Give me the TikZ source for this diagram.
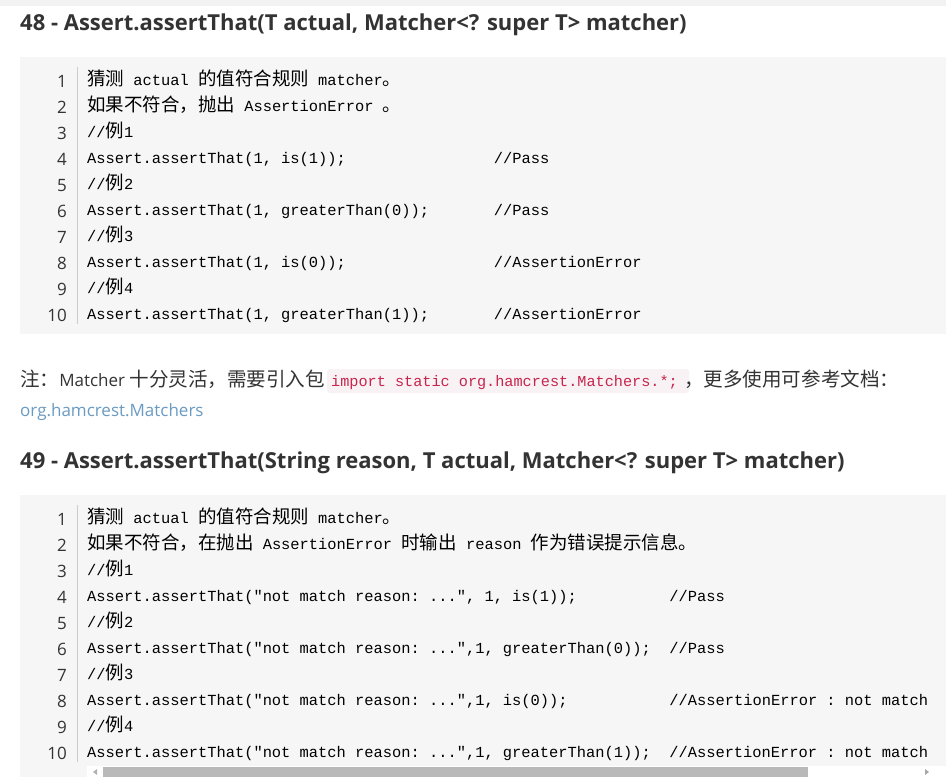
\documentclass[tikz,border=0pt]{standalone}
\usepackage{fontspec}
\setmainfont{Open Sans}
\setmonofont{Liberation Mono}
\newfontfamily\cjk[Scale=1.15]{Noto Sans CJK SC}
\newfontfamily\cjkm[Scale=1.2]{Noto Sans CJK SC}
\newcommand{\zh}[1]{{\cjkm #1}}
\newcommand{\zt}[1]{{\cjk #1}}
\definecolor{codebg}{HTML}{F6F6F6}
\definecolor{headc}{HTML}{333333}
\definecolor{linkc}{HTML}{6A9BC3}
\definecolor{inlbg}{HTML}{F9F2F4}
\definecolor{inlfg}{HTML}{C7254E}
\definecolor{sepc}{HTML}{CCCCCC}
\begin{document}
\begin{tikzpicture}[x=1pt,y=-1pt,
  head/.style={anchor=base west,inner sep=0,font=\fontsize{22}{26}\selectfont\bfseries,text=headc},
  code/.style={anchor=base west,inner sep=0,font=\fontsize{15.4}{18}\ttfamily,text=black},
  lnum/.style={anchor=base east,inner sep=0,font=\fontsize{17}{20}\selectfont,text=headc},
  note/.style={anchor=base west,inner sep=0,font=\fontsize{17}{20}\selectfont,text=headc}]
\useasboundingbox (0,0) rectangle (946,777);
\fill[white] (0,0) rectangle (946,777);
\fill[gray!10] (0,0) rectangle (946,6);
% heading 48
\node[head] (h48) at (20,30) {48 - Assert.assertThat(T actual, Matcher<? super T> matcher)};
\fill[codebg] (20,57) rectangle (946,334);
\draw[sepc] (77,67) -- (77,324);
\foreach \i in {1,...,10} {\node[lnum] (a\i) at (67,{61+26*\i}) {\i};}
\node[code] (c1) at (87,85) {\zh{猜测} actual \zh{的值符合规则} matcher\zh{。}};
\node[code] (c2) at (87,111) {\zh{如果不符合，抛出} AssertionError \zh{。}};
\node[code] (c3) at (87,137) {//\zh{例}1};
\node[code] (c4) at (87,163) {Assert.assertThat(1, is(1));\ \ \ \ \ \ \ \ \ \ \ \ \ \ \ \ //Pass};
\node[code] (c5) at (87,189) {//\zh{例}2};
\node[code] (c6) at (87,215) {Assert.assertThat(1, greaterThan(0));\ \ \ \ \ \ \ //Pass};
\node[code] (c7) at (87,241) {//\zh{例}3};
\node[code] (c8) at (87,267) {Assert.assertThat(1, is(0));\ \ \ \ \ \ \ \ \ \ \ \ \ \ \ \ //AssertionError};
\node[code] (c9) at (87,293) {//\zh{例}4};
\node[code] (c10) at (87,319) {Assert.assertThat(1, greaterThan(1));\ \ \ \ \ \ \ //AssertionError};
% note
\node[note] (n1) at (20,386) {\zt{注：}Matcher \zt{十分灵活，需要引入包}};
\fill[inlbg,rounded corners=3pt] (327,369) rectangle (689,393);
\node[code,text=inlfg,font=\fontsize{15.2}{18}\ttfamily] (n2) at (331,386) {import static org.hamcrest.Matchers.*;};
\node[note] (n3) at (684,386) {\zt{，更多使用可参考文档：}};
\node[note,text=linkc] (n4) at (20,416) {org.hamcrest.Matchers};
% heading 49
\node[head] (h49) at (20,468) {49 - Assert.assertThat(String reason, T actual, Matcher<? super T> matcher)};
\begin{scope}
\clip (20,495) rectangle (946,777);
\fill[codebg] (20,495) rectangle (946,777);
\draw[sepc] (77,505) -- (77,762);
\foreach \i in {1,...,10} {\node[lnum] (b\i) at (67,{499+26*\i}) {\i};}
\node[code] (d1) at (87,523) {\zh{猜测} actual \zh{的值符合规则} matcher\zh{。}};
\node[code] (d2) at (87,549) {\zh{如果不符合，在抛出} AssertionError \zh{时输出} reason \zh{作为错误提示信息。}};
\node[code] (d3) at (87,575) {//\zh{例}1};
\node[code] (d4) at (87,601) {Assert.assertThat("not match reason: ...", 1, is(1));\ \ \ \ \ \ \ \ \ \ //Pass};
\node[code] (d5) at (87,627) {//\zh{例}2};
\node[code] (d6) at (87,653) {Assert.assertThat("not match reason: ...",1, greaterThan(0));\ \ //Pass};
\node[code] (d7) at (87,679) {//\zh{例}3};
\node[code] (d8) at (87,705) {Assert.assertThat("not match reason: ...",1, is(0));\ \ \ \ \ \ \ \ \ \ \ //AssertionError : not match};
\node[code] (d9) at (87,731) {//\zh{例}4};
\node[code] (d10) at (87,757) {Assert.assertThat("not match reason: ...",1, greaterThan(1));\ \ //AssertionError : not match};
% scrollbar
\fill[white] (87,766) rectangle (946,777);
\fill[gray!55] (103,767) rectangle (808,777);
\fill[gray!60] (97,769) -- (93,772) -- (97,775) -- cycle;
\fill[gray!70] (925,769) -- (929,772) -- (925,775) -- cycle;
\end{scope}
\end{tikzpicture}
\end{document}
